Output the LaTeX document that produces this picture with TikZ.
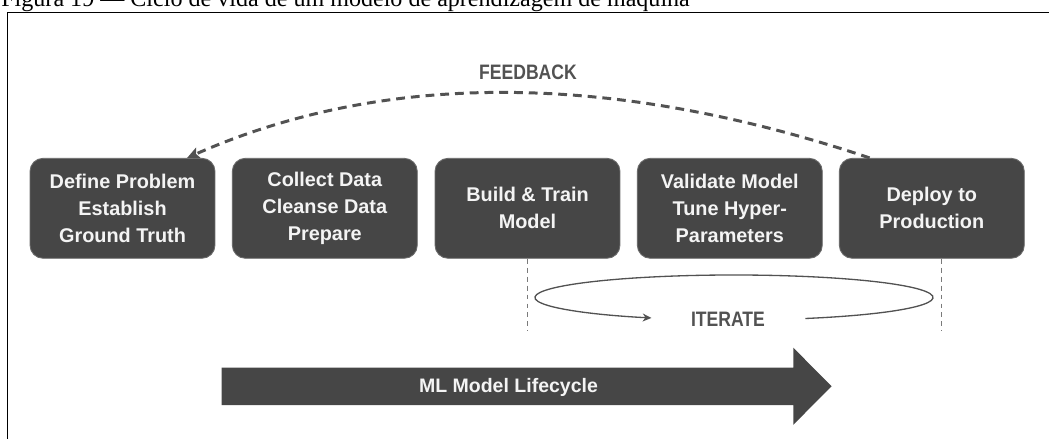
\documentclass[tikz,border=0pt]{standalone}
\usepackage{fontspec}
\setmainfont{Liberation Serif}
\newfontfamily\stagefont{Liberation Sans}
\newfontfamily\tagfont[FakeStretch=0.84]{Liberation Sans}
\usetikzlibrary{arrows.meta}

\definecolor{stagefill}{HTML}{464646}
\definecolor{stagetext}{HTML}{F4F4F4}
\definecolor{linkgray}{HTML}{525252}
\definecolor{guidegray}{HTML}{7A7A7A}

\tikzset{
  stagebox/.style={draw=stagefill!80!white, line width=0.5pt, fill=stagefill,
    rounded corners=0.26cm, minimum width=3.7cm, minimum height=2cm,
    inner sep=0pt, text=stagetext, align=center,
    font=\stagefont\bfseries\fontsize{11.3}{15.4}\selectfont},
  tagtext/.style={inner sep=0pt, text=linkgray,
    font=\tagfont\bfseries\fontsize{11.9}{14}\selectfont},
  feedbackline/.style={draw=linkgray, line width=1.7pt,
    dash pattern=on 5pt off 3.4pt,
    -{Stealth[length=7pt, width=6.5pt, inset=1.5pt]}},
  guideline/.style={draw=guidegray, line width=0.55pt,
    dash pattern=on 2.8pt off 2.3pt},
  loopline/.style={draw=linkgray, line width=0.75pt,
    -{Stealth[length=5pt, width=4.5pt]}},
}

\begin{document}
\begin{tikzpicture}[x=0.02cm, y=-0.02cm]
  \useasboundingbox (0,0) rectangle (1049,439);
  \clip (0,0) rectangle (1049,439);

  % caption line above the frame
  \node[anchor=base west, inner sep=0pt, font=\fontsize{13.7}{16}\selectfont]
    (caption) at (1,7) {Figura 19 — Ciclo de vida de um modelo de aprendizagem de máquina};

  % frame
  \draw[line width=0.75pt] (7.3,460) |- (1070,12.8);

  % lifecycle stages
  \node[stagebox] (s1) at (122.5,208.3) {Define Problem\\Establish\\Ground Truth};
  \node[stagebox] (s2) at (324.8,208.3) {Collect Data\\Cleanse Data\\Prepare};
  \node[stagebox] (s3) at (527.5,208.3) {Build \& Train\\Model};
  \node[stagebox] (s4) at (729.8,208.3) {Validate Model\\Tune Hyper-\\Parameters};
  \node[stagebox] (s5) at (931.8,208.3) {Deploy to\\Production};

  % feedback loop from deployment back to the problem definition
  \path (s5.north west) ++(30.7,0) coordinate (fbstart);
  \path (s1.north east) ++(-28.3,0) coordinate (fbend);
  \draw[feedbackline] (fbstart) .. controls +(-259.3,-86.7) and +(196,-86.7) .. (fbend);
  \node[tagtext, anchor=base] (feedback) at (528,80) {FEEDBACK};

  % span of the iteration
  \coordinate (g1) at (527.5,331);
  \coordinate (g2) at (941.7,331);
  \draw[guideline] (s3.south) -- (g1);
  \draw[guideline] (s5.south -| g2) -- (g2);

  % iteration loop
  \coordinate (loopstart) at (805.3,318.5);
  \draw[loopline] (loopstart) arc[start angle=69, end angle=-245.5, x radius=199, y radius=22.5];
  \node[tagtext, anchor=base] (iterate) at (728,326.5) {ITERATE};

  % overall lifecycle arrow
  \fill[stagefill] (221.7,367.5) -- (793.3,367.5) -- (793.3,347.7) -- (831.5,386.25)
    -- (793.3,424.8) -- (793.3,405) -- (221.7,405) -- cycle;
  \node[anchor=base, inner sep=0pt, text=stagetext,
    font=\stagefont\bfseries\fontsize{11.1}{14}\selectfont]
    (lifecycle) at (508.5,392.3) {ML Model Lifecycle};
\end{tikzpicture}
\end{document}
